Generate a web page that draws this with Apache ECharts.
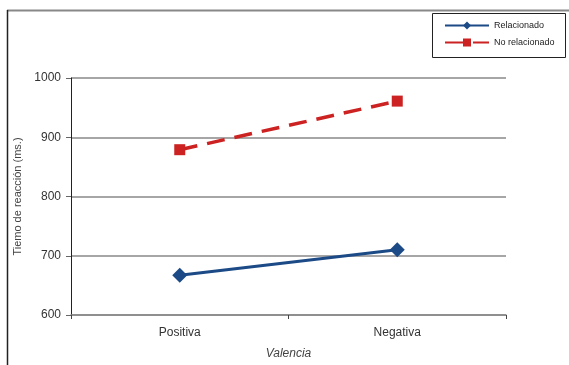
<!DOCTYPE html>
<html><head><meta charset="utf-8">
<script src="https://cdn.jsdelivr.net/npm/echarts@6/dist/echarts.min.js"></script>
<style>html,body{margin:0;padding:0;background:#fff}#c{width:569px;height:365px}</style>
</head><body><div id="c"></div>
<script>
const categories = ['Positiva', 'Negativa'];
const relacionado = [667, 710];
const noRelacionado = [879, 961];
const seriesNames = ['Relacionado', 'No relacionado'];

const chart = echarts.init(document.getElementById('c'));
chart.setOption({
  animation: false,
  backgroundColor: '#fff',
  textStyle: { fontFamily: 'Liberation Sans, Arial, sans-serif' },
  grid: { left: 71, right: 63, top: 78, bottom: 50 },
  graphic: [
    { type: 'line', shape: { x1: 7, y1: 10.5, x2: 569, y2: 10.5 }, style: { stroke: '#888', lineWidth: 2 } },
    { type: 'line', shape: { x1: 7.5, y1: 10, x2: 7.5, y2: 365 }, style: { stroke: '#222', lineWidth: 1.5 } },
    { type: 'rect', shape: { x: 432.5, y: 13.5, width: 133, height: 44 }, style: { fill: 'none', stroke: '#222', lineWidth: 1 } }
  ],
  legend: {
    orient: 'vertical', left: 444, top: 21, padding: 0,
    itemWidth: 44, itemHeight: 10, itemGap: 8,
    textStyle: { fontSize: 9, color: '#222' },
    data: seriesNames
  },
  xAxis: {
    type: 'category', data: categories, boundaryGap: true,
    name: 'Valencia', nameLocation: 'middle', nameGap: 33,
    nameTextStyle: { fontStyle: 'italic', fontSize: 12, color: '#444' },
    axisLine: { lineStyle: { color: '#888', width: 1.5 } },
    axisTick: { show: true, length: 4, lineStyle: { color: '#444' } },
    axisLabel: { fontSize: 12, color: '#333', margin: 12 }
  },
  yAxis: {
    type: 'value', min: 600, max: 1000, interval: 100,
    name: 'Tiemo de reacción (ms.)', nameLocation: 'middle', nameGap: 46,
    nameTextStyle: { fontSize: 11, color: '#444' },
    axisLine: { show: true, lineStyle: { color: '#222', width: 1 } },
    axisTick: { show: true, length: 5, lineStyle: { color: '#666' } },
    axisLabel: { fontSize: 12, color: '#333', margin: 10, formatter: v => String(v) },
    splitLine: { lineStyle: { color: '#888', width: 1.5 } }
  },
  series: [
    {
      name: seriesNames[0], type: 'line', data: relacionado,
      symbol: 'diamond', symbolSize: 15,
      lineStyle: { color: '#1b4a86', width: 3 },
      itemStyle: { color: '#1b4a86' }
    },
    {
      name: seriesNames[1], type: 'line', data: noRelacionado,
      symbol: 'rect', symbolSize: 11,
      lineStyle: { color: '#cc2222', width: 3.5, type: [18, 10] },
      itemStyle: { color: '#cc2222' }
    }
  ]
});
</script></body></html>
